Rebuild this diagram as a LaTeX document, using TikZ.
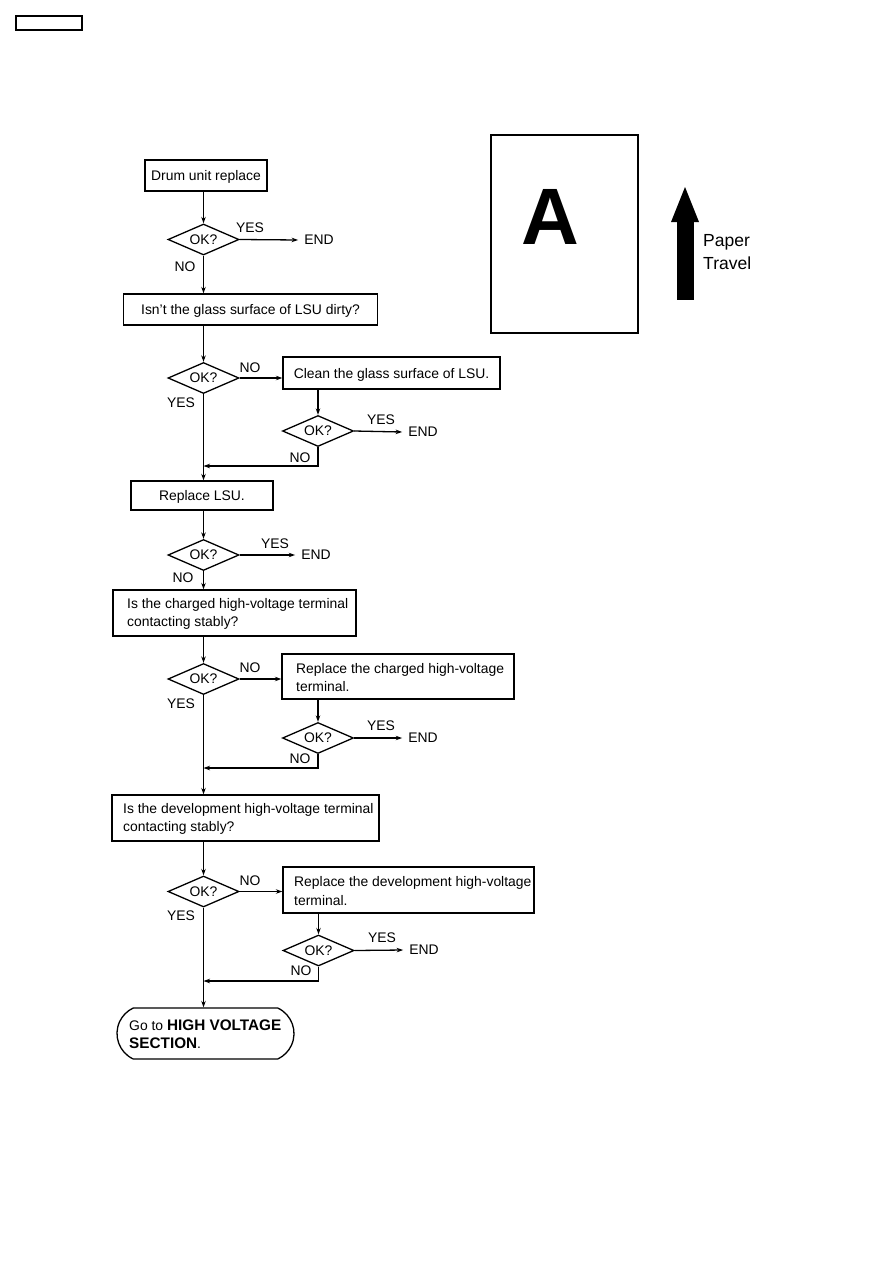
\documentclass[tikz,border=0pt]{standalone}
\usepackage{fontspec}
\setmainfont{Liberation Sans}
\usetikzlibrary{shapes.geometric,shapes.misc,arrows.meta}
\begin{document}
\begin{tikzpicture}[x=1pt,y=-1pt,
  every node/.style={font=\fontsize{13.9}{18.5}\selectfont, inner sep=0pt},
  box/.style={draw, line width=1.3pt, minimum width=#1},
  onebox/.style={draw, line width=1.3pt, minimum width=#1, text depth=0pt},
  dia/.style={draw, diamond, aspect=2.3, line width=1.3pt, minimum width=71pt, minimum height=31pt},
  txt/.style={align=left, anchor=west},
  arr/.style={line width=1.3pt, -{Stealth[length=6.5pt,width=4.5pt]}}]
\useasboundingbox (0,0) rectangle (893,1263);

% top-left tab
\node[draw, line width=1.3pt, minimum width=66pt, minimum height=14pt] (tab) at (49,23) {};

% paper sample
\node[draw, line width=1.3pt, minimum width=147pt, minimum height=198pt] (page) at (564.5,234) {};
\node (letterA) at (550,217) {\fontsize{80}{80}\selectfont\bfseries A};
\node[fill=black, draw=black, line width=0.5pt, shape=rectangle, minimum width=16pt, minimum height=78pt] (shaft) at (685,260) {};
\fill[black] (671,222) -- (685,187) -- (699,222) -- cycle;
\node[txt, font=\fontsize{17.5}{23}\selectfont] (ptravel) at (703,252) {Paper\\Travel};

% --- flow ---
\node[onebox=122pt, minimum height=31pt] (drum) at (206,175.5) {Drum unit replace};
\node[dia] (d1) at (203.5,239.5) {OK?};
\node (end1) at (319,240) {END};
\node (y1) at (250,228) {YES};
\node (n1) at (185,267) {NO};
\draw[arr] (drum.south -| d1.north) -- (d1.north);

\node[onebox=254pt, minimum height=31pt] (glass) at (250.5,309.5) {Isn't the glass surface of LSU dirty?};
\draw[arr] (d1.south) -- (d1.south |- glass.north);

\node[dia] (d2) at (203.5,378) {OK?};
\draw[arr] (glass.south -| d2.north) -- (d2.north);
\node (n2) at (250,368) {NO};
\node (y2) at (181,403) {YES};
\node[onebox=217pt, minimum height=32pt] (clean) at (391.5,373) {Clean the glass surface of LSU.};
\draw[arr] (d2.east) -- (d2.east -| clean.west);
\node[dia] (s2) at (318,431) {OK?};
\draw[arr] (clean.south -| s2.north) -- (s2.north);
\node (ys2) at (381,420) {YES};
\node (ends2) at (423,432) {END};
\node (ns2) at (300,458) {NO};
\coordinate (j2) at (203.5,466);
\draw[arr] (s2.south) |- (j2);

\node[onebox=142pt, minimum height=29pt] (lsu) at (202,495.5) {Replace LSU.};
\draw[arr] (d2.south) -- (d2.south |- lsu.north);

\node[dia] (d3) at (203.5,555) {OK?};
\draw[arr] (lsu.south -| d3.north) -- (d3.north);
\node (y3) at (275,544) {YES};
\node (end3) at (316,555) {END};
\node (n3) at (183,578) {NO};

\node[box=243pt, minimum height=46pt] (charged) at (234.5,613) {};
\node[txt] (chargedt) at (127,614) {Is the charged high-voltage terminal\\contacting stably?};
\draw[arr] (d3.south) -- (d3.south |- charged.north);

\node[dia] (d4) at (203.5,679) {OK?};
\draw[arr] (charged.south -| d4.north) -- (d4.north);
\node (n4) at (250,668) {NO};
\node (y4) at (181,704) {YES};
\node[box=232pt, minimum height=45pt] (rcharged) at (398,676.5) {};
\node[txt] (rchargedt) at (296,677.5) {Replace the charged high-voltage\\terminal.};
\draw[arr] (d4.east) -- (d4.east -| rcharged.west);
\node[dia] (s4) at (318,738) {OK?};
\draw[arr] (rcharged.south -| s4.north) -- (s4.north);
\node (ys4) at (381,726) {YES};
\node (ends4) at (423,738) {END};
\node (ns4) at (300,759) {NO};
\coordinate (j4) at (203.5,768);
\draw[arr] (s4.south) |- (j4);

\node[box=267pt, minimum height=46pt] (devel) at (245.5,818) {};
\node[txt] (develt) at (123,819) {Is the development high-voltage terminal\\contacting stably?};
\draw[arr] (d4.south) -- (d4.south |- devel.north);

\node[dia] (d5) at (203.5,891.5) {OK?};
\draw[arr] (devel.south -| d5.north) -- (d5.north);
\node (n5) at (250,881) {NO};
\node (y5) at (181,916) {YES};
\node[box=251pt, minimum height=46pt] (rdevel) at (408.5,890) {};
\node[txt] (rdevelt) at (294,891) {Replace the development high-voltage\\terminal.};
\draw[arr] (d5.east) -- (d5.east -| rdevel.west);
\node[dia] (s5) at (318.5,950.5) {OK?};
\draw[arr] (rdevel.south -| s5.north) -- (s5.north);
\node (ys5) at (382,938) {YES};
\node (ends5) at (424,950) {END};
\node (ns5) at (301,971) {NO};
\coordinate (j5) at (203.5,981);
\draw[arr] (s5.south) |- (j5);

\node[draw, line width=1.3pt, rounded rectangle, rounded rectangle arc length=130, minimum width=177pt, minimum height=51pt] (goto) at (205.5,1033.5) {};
\node[txt] (gotot) at (129,1034) {Go to {\fontsize{15.3}{18.5}\selectfont\bfseries HIGH VOLTAGE}\\{\fontsize{15.3}{18.5}\selectfont\bfseries SECTION}.};
\draw[arr] (d5.south) -- (d5.south |- goto.north);

% YES -> END arrows
\draw[arr] (d1.east) -- ([xshift=-6pt]end1.west);
\draw[arr] (s2.east) -- ([xshift=-6pt]ends2.west);
\draw[arr] (d3.east) -- ([xshift=-6pt]end3.west);
\draw[arr] (s4.east) -- ([xshift=-6pt]ends4.west);
\draw[arr] (s5.east) -- ([xshift=-6pt]ends5.west);
\end{tikzpicture}
\end{document}
